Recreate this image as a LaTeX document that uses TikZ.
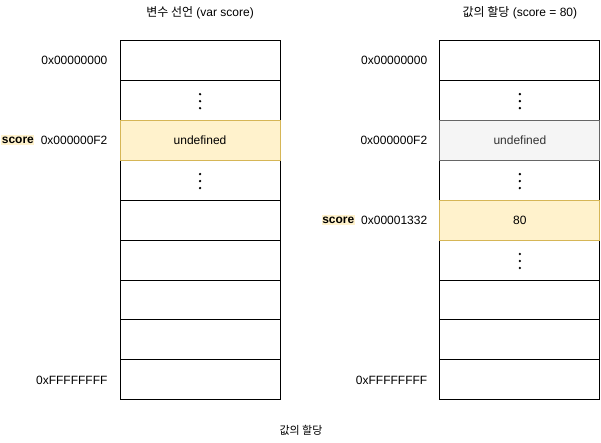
\documentclass[tikz,border=0pt]{standalone}
\usepackage{fontspec}
\setmainfont{Liberation Sans}
\newfontfamily\krfont{Noto Sans CJK KR}
\usetikzlibrary{positioning}

\definecolor{yellowfill}{HTML}{FFF2CC}
\definecolor{yellowline}{HTML}{D6B656}
\definecolor{grayfill}{HTML}{F5F5F5}
\definecolor{grayline}{HTML}{666666}
\definecolor{graytext}{HTML}{333333}

\tikzset{
  cell/.style={draw=black, fill=white, line width=1pt, minimum width=160pt,
    minimum height=40pt, inner sep=0pt, font=\fontsize{12}{14}\selectfont},
  yellowcell/.style={cell, draw=yellowline, fill=yellowfill},
  graycell/.style={cell, draw=grayline, fill=grayfill, text=graytext},
  addr/.style={inner sep=0pt, font=\fontsize{12}{14}\selectfont},
  varname/.style={fill=yellowfill, inner xsep=0.5pt, inner ysep=1.5pt,
    font=\fontsize{12}{14}\selectfont\bfseries},
  title/.style={font=\fontsize{12}{14}\selectfont}
}

\begin{document}
\begin{tikzpicture}[x=1pt,y=-1pt]
\draw[opacity=0] (0,0) rectangle (601,442);

% left memory: declaration
\node[title] (ltitle) at (200,13) {{\krfont 변수 선언} (var score)};
\foreach \i in {0,...,8}
  \node[cell] (L\i) at (200,60+40*\i) {};
\node[yellowcell] (L2) at (200,140) {undefined};
\foreach \i in {1,3}
  \foreach \d in {-7,0,7}
    \fill (200,100+40*\i-40+\d+1) circle (1.3);

\node[addr, left=12pt of L0] (la0) {0x00000000};
\node[addr, left=12pt of L2] (la2) {0x000000F2};
\node[addr, left=12pt of L8] (la8) {0xFFFFFFFF};
\node[varname, left=6pt of la2] (lvar) {score};

% right memory: assignment
\node[title] (rtitle) at (520,13) {{\krfont 값의 할당} (score = 80)};
\foreach \i in {0,...,8}
  \node[cell] (R\i) at (520,60+40*\i) {};
\node[graycell] (R2) at (520,140) {undefined};
\node[yellowcell] (R4) at (520,220) {80};
\foreach \i in {1,3,5}
  \foreach \d in {-7,0,7}
    \fill (520,100+40*\i-40+\d+1) circle (1.3);

\node[addr, left=12pt of R0] (ra0) {0x00000000};
\node[addr, left=12pt of R2] (ra2) {0x000000F2};
\node[addr, left=12pt of R4] (ra4) {0x00001332};
\node[addr, left=12pt of R8] (ra8) {0xFFFFFFFF};
\node[varname, left=6pt of ra4] (rvar) {score};

\node[title, font=\fontsize{11}{13}\selectfont\krfont] (caption) at (301,430) {값의 할당};

\end{tikzpicture}
\end{document}
